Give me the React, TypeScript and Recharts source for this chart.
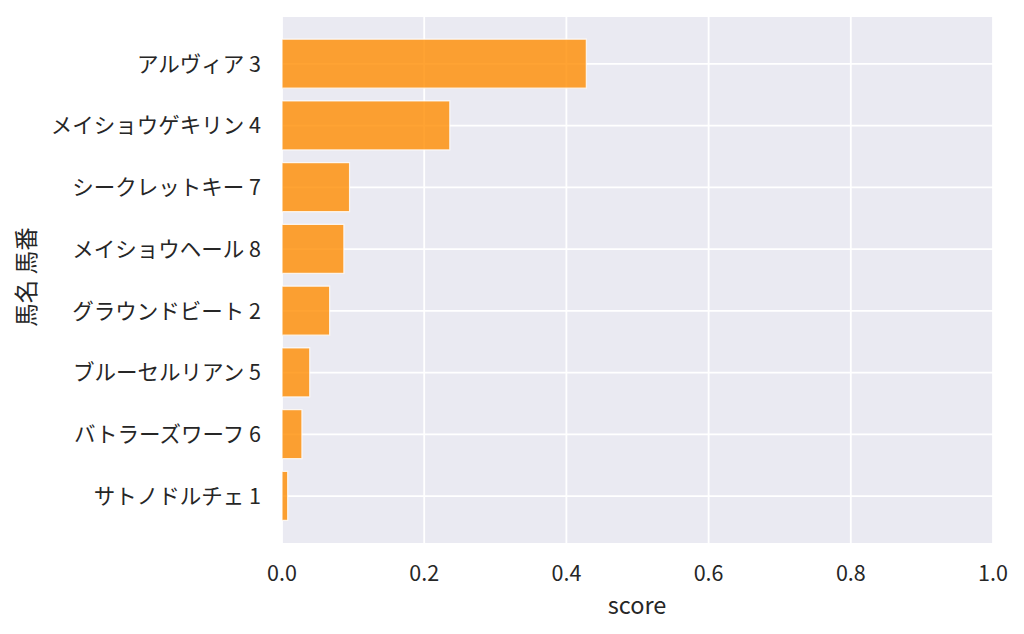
import { BarChart, Bar, XAxis, YAxis, CartesianGrid } from "recharts";

const horses = [
  "アルヴィア 3",
  "メイショウゲキリン 4",
  "シークレットキー 7",
  "メイショウヘール 8",
  "グラウンドビート 2",
  "ブルーセルリアン 5",
  "バトラーズワーフ 6",
  "サトノドルチェ 1",
];

const scores = [0.428, 0.236, 0.095, 0.087, 0.067, 0.039, 0.028, 0.008];

const xTicks = [0, 0.2, 0.4, 0.6, 0.8, 1.0];

const data = horses.map((name, i) => ({ name, score: scores[i] }));

const FONT = "'Noto Sans CJK JP', 'Noto Sans', sans-serif";
const INK = "#262626";

export default function App() {
  return (
    <div style={{ position: "absolute", left: 0, top: 0, width: 1024, height: 634, background: "#fff", fontFamily: FONT }}>
      <BarChart
        width={1024}
        height={634}
        data={data}
        layout="vertical"
        barCategoryGap="10%"
        margin={{ top: 16, right: 31, bottom: 0, left: 0 }}
      >
        <CartesianGrid stroke="#ffffff" strokeWidth={1.8} fill="#EAEAF2" fillOpacity={1} />
        <XAxis
          type="number"
          dataKey="score"
          domain={[0, 1]}
          ticks={xTicks}
          tickFormatter={(v: number) => v.toFixed(1)}
          axisLine={false}
          tickLine={false}
          tickSize={0}
          tickMargin={22}
          height={90}
          tick={{ fontSize: 21.5, fill: INK, fontFamily: FONT }}
          label={{
            content: () => (
              <text x={637} y={614} textAnchor="middle" fontSize={23.5} fill={INK} fontFamily={FONT}>
                score
              </text>
            ),
          }}
        />
        <YAxis
          type="category"
          dataKey="name"
          width={282}
          padding={{ top: 17, bottom: 17 }}
          axisLine={false}
          tickLine={false}
          tickSize={0}
          tickMargin={21}
          interval={0}
          tick={{ fontSize: 21.5, fill: INK, fontFamily: FONT }}
          label={{
            content: () => (
              <text
                x={25}
                y={277}
                transform="rotate(-90 25 277)"
                textAnchor="middle"
                dominantBaseline="central"
                fontSize={23.5}
                fill={INK}
                fontFamily={FONT}
              >
                馬名 馬番
              </text>
            ),
          }}
        />
        <Bar
          dataKey="score"
          fill="#FF8C00"
          fillOpacity={0.8}
          stroke="#ffffff"
          strokeOpacity={0.8}
          strokeWidth={1.2}
          isAnimationActive={false}
        />
      </BarChart>
    </div>
  );
}
